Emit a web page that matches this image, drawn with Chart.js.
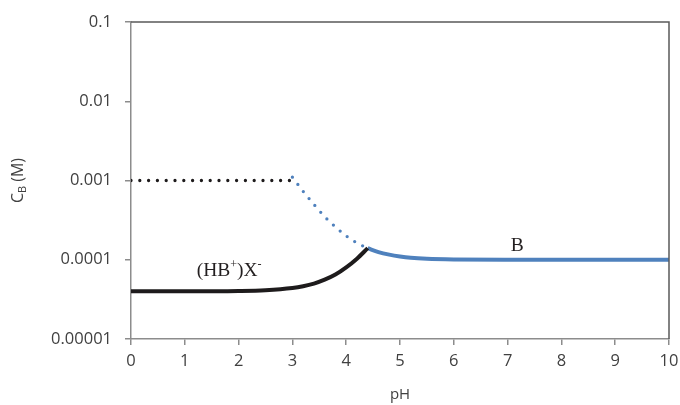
<!DOCTYPE html>
<html>
<head>
<meta charset="utf-8">
<script src="https://cdn.jsdelivr.net/npm/chart.js@4.4.0/dist/chart.umd.min.js"></script>
<style>
  html, body { margin: 0; padding: 0; background: #fff; }
  #wrap { width: 680px; height: 405px; position: relative; }
</style>
</head>
<body>
<div id="wrap"><canvas id="chart"></canvas></div>
<script>
// ─── Data ────────────────────────────────────────────────────
// salt-limited curve, (HB+)X- solid black
const phSalt = [0, 1, 2, 2.5, 3, 3.2, 3.4, 3.6, 3.8, 4.0, 4.2, 4.4];
const cSalt  = [4.0e-5, 4.0e-5, 4.04e-5, 4.13e-5, 4.4e-5, 4.63e-5, 5.0e-5, 5.6e-5, 6.5e-5, 8.0e-5, 1.03e-4, 1.4e-4];

// total amount cap, dotted black
const phCap = [0, 3];
const cCap  = [1.0e-3, 1.0e-3];

// base-limited curve below pHmax, dotted blue
const phBaseDot = [3.0, 3.2, 3.4, 3.6, 3.8, 4.0, 4.2, 4.4];
const cBaseDot  = [1.1e-3, 7.3e-4, 5.0e-4, 3.5e-4, 2.6e-4, 2.0e-4, 1.63e-4, 1.4e-4];

// base-limited curve, B solid blue
const phBase = [4.4, 4.6, 4.8, 5.0, 5.2, 5.5, 6, 7, 8, 9, 10];
const cBase  = [1.4e-4, 1.25e-4, 1.16e-4, 1.1e-4, 1.06e-4, 1.03e-4, 1.01e-4, 1.0e-4, 1.0e-4, 1.0e-4, 1.0e-4];

const xTicks      = [0, 1, 2, 3, 4, 5, 6, 7, 8, 9, 10];
const yTicks      = [0.00001, 0.0001, 0.001, 0.01, 0.1];
const yTickLabels = ['0.00001', '0.0001', '0.001', '0.01', '0.1'];

// curve label anchors (pH, C)
const saltLabel = { x: 1.22, y: 6.3e-5 };
const baseLabel = { x: 7.06, y: 1.3e-4 };

// ─── Helpers ─────────────────────────────────────────────────
const toPts = (xs, ys) => xs.map((x, i) => ({ x: x, y: ys[i] }));
const AXIS_GREY = '#8c8c8c';
const TEXT_GREY = '#404040';
const BLUE  = '#4f81bd';
const BLACK = '#1e1b1c';
const TICK_FONT = { family: '"Open Sans", sans-serif', size: 16.5 };

// draws text with raised small parts: [[text, raised], ...]
function drawParts(ctx, parts, x, y, size, family) {
    let cx = x;
    parts.forEach(([t, sup]) => {
        const fs = sup ? Math.round(size * 0.6) : size;
        ctx.font = fs + 'px ' + family;
        ctx.fillText(t, cx, sup ? y - size * 0.4 : y);
        cx += ctx.measureText(t).width;
    });
}

const decorPlugin = {
    id: 'decor',
    afterDraw(chart) {
        const { ctx, chartArea: a, scales } = chart;
        ctx.save();

        // top and right frame lines (darker than the axes)
        ctx.strokeStyle = '#5a5a5a';
        ctx.lineWidth = 1.5;
        ctx.beginPath();
        ctx.moveTo(a.left, a.top);
        ctx.lineTo(a.right, a.top);
        ctx.lineTo(a.right, a.bottom);
        ctx.stroke();

        // curve labels
        ctx.fillStyle = '#231f20';
        ctx.textBaseline = 'alphabetic';
        ctx.textAlign = 'left';
        const serif = '"Liberation Serif", "DejaVu Serif", serif';
        drawParts(ctx, [['(HB', false], ['+', true], [')X', false], ['-', true]],
            scales.x.getPixelForValue(saltLabel.x), scales.y.getPixelForValue(saltLabel.y), 19.5, serif);
        drawParts(ctx, [['B', false]],
            scales.x.getPixelForValue(baseLabel.x), scales.y.getPixelForValue(baseLabel.y), 19.5, serif);

        // x title
        ctx.fillStyle = TEXT_GREY;
        ctx.font = '15px "Open Sans", sans-serif';
        ctx.textAlign = 'center';
        ctx.textBaseline = 'middle';
        ctx.fillText('pH', (a.left + a.right) / 2, 395);

        // y title, C with subscript B
        ctx.translate(18, (a.top + a.bottom) / 2);
        ctx.rotate(-Math.PI / 2);
        ctx.textAlign = 'left';
        ctx.textBaseline = 'alphabetic';
        ctx.font = '16px "Open Sans", sans-serif';
        const wC = ctx.measureText('C').width;
        ctx.font = '11px "Open Sans", sans-serif';
        const wB = ctx.measureText('B').width;
        ctx.font = '16px "Open Sans", sans-serif';
        const wM = ctx.measureText(' (M)').width;
        let x0 = -(wC + wB + wM) / 2;
        ctx.fillText('C', x0, 5);
        ctx.font = '11px "Open Sans", sans-serif';
        ctx.fillText('B', x0 + wC, 8);
        ctx.font = '16px "Open Sans", sans-serif';
        ctx.fillText(' (M)', x0 + wC + wB, 5);

        ctx.restore();
    }
};

// ─── Chart ───────────────────────────────────────────────────
const ctx = document.getElementById('chart').getContext('2d');

new Chart(ctx, {
    type: 'line',
    data: {
        datasets: [
            {
                label: 'cap',
                data: toPts(phCap, cCap),
                borderColor: BLACK,
                borderWidth: 3.3,
                borderDash: [0, 8.8],
                borderCapStyle: 'round',
                pointRadius: 0,
            },
            {
                label: 'B dotted',
                data: toPts(phBaseDot, cBaseDot),
                borderColor: BLUE,
                borderWidth: 3.3,
                borderDash: [0, 9],
                borderCapStyle: 'round',
                cubicInterpolationMode: 'monotone',
                pointRadius: 0,
            },
            {
                label: '(HB+)X-',
                data: toPts(phSalt, cSalt),
                borderColor: BLACK,
                borderWidth: 4,
                cubicInterpolationMode: 'monotone',
                pointRadius: 0,
            },
            {
                label: 'B',
                data: toPts(phBase, cBase),
                borderColor: BLUE,
                borderWidth: 4,
                cubicInterpolationMode: 'monotone',
                pointRadius: 0,
            }
        ]
    },
    options: {
        responsive: true,
        maintainAspectRatio: false,
        animation: false,
        layout: { padding: { left: 0, right: 11, top: 22, bottom: 0 } },
        plugins: {
            legend: { display: false },
            tooltip: { enabled: false }
        },
        scales: {
            x: {
                type: 'linear',
                min: 0,
                max: 10,
                afterBuildTicks: (s) => { s.ticks = xTicks.map(v => ({ value: v })); },
                afterFit: (s) => { s.height = 66; s.paddingLeft = 0; s.paddingRight = 0; },
                grid: { drawOnChartArea: false, drawTicks: true, tickLength: 6, color: AXIS_GREY, lineWidth: 1.5 },
                border: { display: true, color: AXIS_GREY, width: 1.5 },
                ticks: { color: TEXT_GREY, font: TICK_FONT, padding: 6, maxRotation: 0 }
            },
            y: {
                type: 'logarithmic',
                min: 0.00001,
                max: 0.1,
                afterBuildTicks: (s) => { s.ticks = yTicks.map(v => ({ value: v })); },
                afterFit: (s) => { s.width = 131; s.paddingTop = 0; s.paddingBottom = 0; },
                grid: { drawOnChartArea: false, drawTicks: true, tickLength: 6, color: AXIS_GREY, lineWidth: 1.5 },
                border: { display: true, color: AXIS_GREY, width: 1.5 },
                ticks: {
                    color: TEXT_GREY, font: TICK_FONT, padding: 13,
                    callback: (v) => {
                        const i = yTicks.findIndex(t => Math.abs(Math.log10(t) - Math.log10(v)) < 1e-6);
                        return i >= 0 ? yTickLabels[i] : '';
                    }
                }
            }
        }
    },
    plugins: [decorPlugin]
});
</script>
</body>
</html>
